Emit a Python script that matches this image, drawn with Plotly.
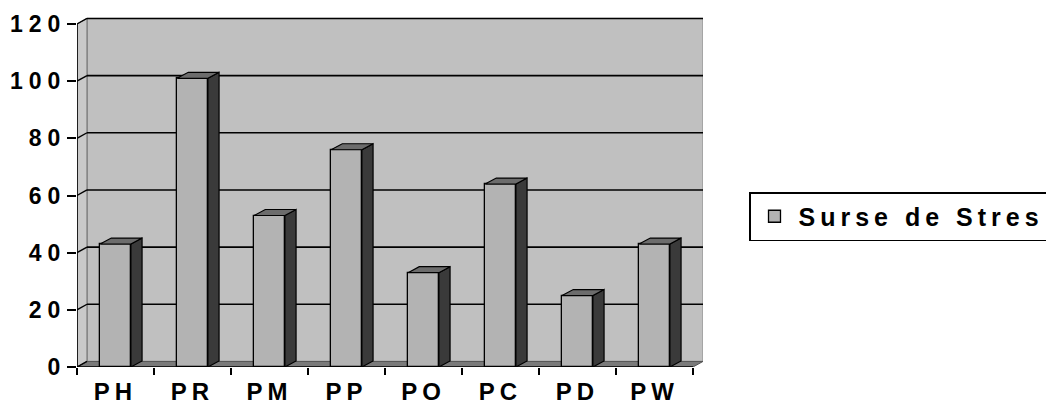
import plotly.graph_objects as go

# ---------------- data ----------------
categories = ["PH", "PR", "PM", "PP", "PO", "PC", "PD", "PW"]
values = [43, 101, 53, 76, 33, 64, 25, 43]
series_name = "Surse de Stres"
y_tick_vals = [0, 20, 40, 60, 80, 100, 120]
y_tick_text = ["0", "20", "40", "60", "80", "100", "120"]

# ---------------- style ----------------
FONT = "Liberation Sans"
WALL = "#c0c0c0"
SIDEWALL = "#c9c9c9"
FLOOR = "#7a7a7a"
FRONT = "#b3b3b3"
SIDE = "#3a3a3a"
TOP = "#6c6c6c"

n = len(categories)
idx = list(range(n))
x0, x1 = -0.5, n - 0.5
ymax = max(y_tick_vals)
dxw, dyw = 0.13, 1.95      # depth offset of the back wall (axis units)
dxb, dyb = 0.145, 2.1      # depth offset of the bar sides
bw = 0.40                  # bar front width

def sp(t, px):
    return '<span style="letter-spacing:%dpx">%s</span>' % (px, t)

fig = go.Figure()

# front faces of bars
fig.add_trace(go.Bar(
    x=idx, y=values, width=bw, name=sp(series_name, 5),
    marker=dict(color=FRONT, line=dict(color="black", width=1.3)),
    showlegend=True, hoverinfo="skip"))

# sides and tops of the bars
for i, v in zip(idx, values):
    r = i + bw / 2
    l = i - bw / 2
    fig.add_trace(go.Scatter(
        x=[r, r + dxb, r + dxb, r, r], y=[0, dyb, v + dyb, v, 0],
        mode="lines", fill="toself", fillcolor=SIDE,
        line=dict(color="black", width=1.2), showlegend=False, hoverinfo="skip"))
    fig.add_trace(go.Scatter(
        x=[l, l + dxb, r + dxb, r, l], y=[v, v + dyb, v + dyb, v, v],
        mode="lines", fill="toself", fillcolor=TOP,
        line=dict(color="black", width=1.2), showlegend=False, hoverinfo="skip"))

shapes = []
# back wall
shapes.append(dict(type="rect", xref="x", yref="y", layer="below",
                   x0=x0 + dxw, x1=x1 + dxw, y0=dyw, y1=ymax + dyw,
                   fillcolor=WALL, line=dict(color="#8a8a8a", width=1)))
# left side wall
shapes.append(dict(type="path", xref="x", yref="y", layer="below",
                   path="M %f,%f L %f,%f L %f,%f L %f,%f Z" % (
                       x0, 0, x0 + dxw, dyw, x0 + dxw, ymax + dyw, x0, ymax),
                   fillcolor=SIDEWALL, line=dict(color="#6a6a6a", width=1)))
# floor
shapes.append(dict(type="path", xref="x", yref="y", layer="below",
                   path="M %f,%f L %f,%f L %f,%f L %f,%f Z" % (
                       x0, 0, x1, 0, x1 + dxw, dyw, x0 + dxw, dyw),
                   fillcolor=FLOOR, line=dict(color="#555555", width=1)))
# gridlines on back wall and side wall
for t in y_tick_vals[1:]:
    shapes.append(dict(type="line", xref="x", yref="y", layer="below",
                       x0=x0 + dxw, x1=x1 + dxw, y0=t + dyw, y1=t + dyw,
                       line=dict(color="black", width=1.6)))
for t in y_tick_vals:
    shapes.append(dict(type="line", xref="x", yref="y", layer="below",
                       x0=x0, x1=x0 + dxw, y0=t, y1=t + dyw,
                       line=dict(color="black", width=1.4)))
# front axis lines
shapes.append(dict(type="line", xref="x", yref="y", layer="above",
                   x0=x0, x1=x0, y0=0, y1=ymax,
                   line=dict(color="black", width=1.6)))
shapes.append(dict(type="line", xref="x", yref="y", layer="above",
                   x0=x0, x1=x1, y0=0, y1=0,
                   line=dict(color="black", width=1.6)))

fig.update_layout(
    width=1046, height=406, autosize=False,
    margin=dict(l=77, r=343, t=17, b=39, pad=0),
    paper_bgcolor="white", plot_bgcolor="rgba(0,0,0,0)",
    shapes=shapes, bargap=0,
    xaxis=dict(range=[x0, x1 + dxw], tickvals=idx, automargin=False,
               ticktext=[sp(c, 5) for c in categories],
               ticks="", showgrid=False, zeroline=False, showline=False,
               tickfont=dict(family=FONT, size=24, color="black", weight="bold"),
               ticklabelstandoff=8,
               minor=dict(tickvals=[i - 0.5 for i in range(n + 1)], ticks="outside",
                          ticklen=7, tickwidth=1.6, tickcolor="black", showgrid=False)),
    yaxis=dict(range=[0, ymax + dyw + 0.5], tickvals=y_tick_vals, automargin=False,
               ticktext=[sp(t, 6) for t in y_tick_text],
               ticks="outside", ticklen=9, tickwidth=1.6, tickcolor="black",
               ticklabelstandoff=-4,
               showgrid=False, zeroline=False, showline=False,
               tickfont=dict(family=FONT, size=23, color="black", weight="bold")),
    legend=dict(xref="container", yref="container",
                x=749 / 1046, y=1 - 192 / 406, xanchor="left", yanchor="top",
                bordercolor="black", borderwidth=1.5, bgcolor="white",
                font=dict(family=FONT, size=25, color="black", weight="bold"),
                itemwidth=38),
)

fig.write_html("out.html", config={"displayModeBar": False},
               post_script="document.body.style.margin='0px';"
                           "document.body.style.overflow='hidden';")
